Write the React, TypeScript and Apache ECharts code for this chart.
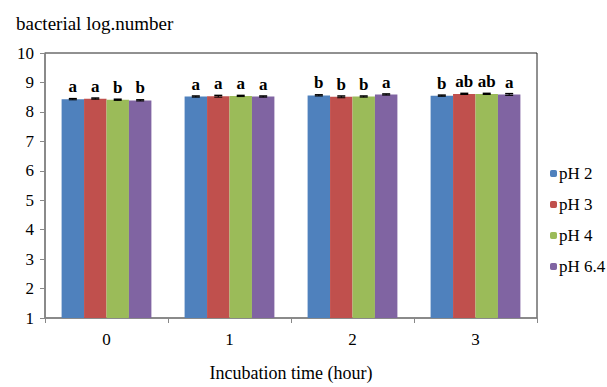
import React, { useEffect, useRef } from "react";
import * as echarts from "echarts";

const categories = ["0", "1", "2", "3"];
const seriesNames = ["pH 2", "pH 3", "pH 4", "pH 6.4"];
const ph2 = [8.43, 8.52, 8.56, 8.55];
const ph3 = [8.45, 8.53, 8.51, 8.61];
const ph4 = [8.41, 8.54, 8.52, 8.61];
const ph64 = [8.39, 8.52, 8.59, 8.59];
const err2 = [0.02, 0.02, 0.02, 0.02];
const err3 = [0.02, 0.03, 0.03, 0.02];
const err4 = [0.02, 0.02, 0.02, 0.02];
const err64 = [0.02, 0.02, 0.02, 0.03];
const letters2 = ["a", "a", "b", "b"];
const letters3 = ["a", "a", "b", "ab"];
const letters4 = ["b", "a", "b", "ab"];
const letters64 = ["b", "a", "a", "a"];
const yTicks = [1, 2, 3, 4, 5, 6, 7, 8, 9, 10];

const values = [ph2, ph3, ph4, ph64];
const errors = [err2, err3, err4, err64];
const letters = [letters2, letters3, letters4, letters64];
const colors = ["#4F81BD", "#C0504D", "#9BBB59", "#8064A2"];
const FONT = "Times New Roman, Liberation Serif, DejaVu Serif, serif";
const GAP = 0.27;

export default function App() {
  const ref = useRef<HTMLDivElement>(null);
  useEffect(() => {
    if (!ref.current) return;
    const chart = echarts.init(ref.current, null, { renderer: "svg" });
    const barSeries = values.map((v, i) => ({
      name: seriesNames[i],
      type: "bar",
      data: v,
      barGap: "0%",
      barCategoryGap: GAP * 100 + "%",
      itemStyle: { color: colors[i] },
      label: {
        show: true,
        position: "top",
        distance: 4,
        formatter: (p: any) => letters[i][p.dataIndex],
        fontFamily: FONT,
        fontWeight: "bold",
        fontSize: 17,
        color: "#000",
      },
      z: 2,
    }));
    const errSeries = values.map((v, i) => ({
      type: "custom",
      name: seriesNames[i] + " err",
      data: v.map((val, k) => [k, val, errors[i][k]]),
      z: 5,
      silent: true,
      renderItem: (params: any, api: any) => {
        const k = api.value(0);
        const val = api.value(1);
        const e = api.value(2);
        const band = api.size([1, 0])[0];
        const bw = (band * (1 - GAP)) / 4;
        const off = (i - 1.5) * bw;
        const top = api.coord([k, val + e]);
        const bot = api.coord([k, val - e]);
        const x = top[0] + off;
        const cap = 4;
        return {
          type: "group",
          children: [
            { type: "line", shape: { x1: x, y1: top[1], x2: x, y2: bot[1] }, style: { stroke: "#000", lineWidth: 1 } },
            { type: "line", shape: { x1: x - cap, y1: top[1], x2: x + cap, y2: top[1] }, style: { stroke: "#000", lineWidth: 1.5 } },
            { type: "line", shape: { x1: x - cap, y1: bot[1], x2: x + cap, y2: bot[1] }, style: { stroke: "#000", lineWidth: 1 } },
          ],
        };
      },
    }));
    chart.setOption({
      animation: false,
      textStyle: { fontFamily: FONT },
      title: {
        text: "bacterial log.number",
        left: 11,
        top: 9,
        textStyle: { fontFamily: FONT, fontSize: 19, fontWeight: "normal", color: "#000" },
      },
      legend: {
        data: seriesNames,
        orient: "vertical",
        left: 545,
        top: 160,
        itemWidth: 7,
        itemHeight: 7,
        itemGap: 14,
        textStyle: { fontFamily: FONT, fontSize: 17, color: "#000", padding: [0, 0, 0, -3] },
      },
      grid: {
        left: 45,
        right: 70,
        top: 53,
        bottom: 62,
        show: true,
        borderColor: "#222",
        borderWidth: 1,
      },
      xAxis: {
        type: "category",
        data: categories,
        name: "Incubation time (hour)",
        nameLocation: "middle",
        nameGap: 46,
        nameTextStyle: { fontFamily: FONT, fontSize: 18, color: "#000" },
        axisLine: { lineStyle: { color: "#888", width: 1.5 } },
        axisTick: { show: true, length: 5, lineStyle: { color: "#888" } },
        axisLabel: { fontFamily: FONT, fontSize: 17, color: "#000", margin: 13 },
      },
      yAxis: {
        type: "value",
        min: yTicks[0],
        max: yTicks[yTicks.length - 1],
        interval: 1,
        splitLine: { show: false },
        axisLine: { show: true, lineStyle: { color: "#888", width: 1.5 } },
        axisTick: { show: true, length: 5, lineStyle: { color: "#888" } },
        axisLabel: { fontFamily: FONT, fontSize: 17, color: "#000", margin: 11 },
      },
      series: [...barSeries, ...errSeries],
    });
    return () => chart.dispose();
  }, []);
  return <div ref={ref} style={{ width: 607, height: 387, position: "absolute", left: 0, top: 0 }} />;
}
